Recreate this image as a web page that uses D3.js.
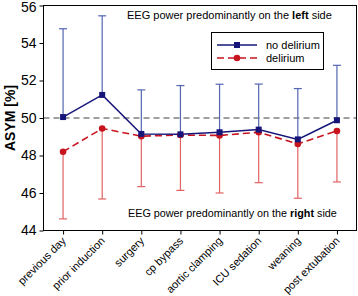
<!DOCTYPE html>
<html><head><meta charset="utf-8">
<script src="https://cdn.jsdelivr.net/npm/d3@7"></script>
<style>body{margin:0;background:#fff;}svg{display:block;font-family:"Liberation Sans",Arial,sans-serif;}</style>
</head><body><svg id="c" width="358" height="296"></svg>
<script>
const categories = ["previous day","prior induction","surgery","cp bypass","aortic clamping","ICU sedation","weaning","post extubation"];
const noDeliriumMean = [50.05, 51.23, 49.15, 49.13, 49.24, 49.38, 48.86, 49.88];
const noDeliriumUpper = [54.76, 55.45, 51.50, 51.73, 51.80, 51.81, 51.57, 52.81];
const deliriumMean = [48.20, 49.44, 49.03, 49.09, 49.07, 49.24, 48.62, 49.31];
const deliriumLower = [44.62, 45.68, 46.34, 46.14, 46.00, 46.55, 45.72, 46.59];
const yTicks = [44, 46, 48, 50, 52, 54, 56];

(function () {
const svg = d3.select("#c");
const L = 43.5, R = 356.5, T = 5.5, B = 230.5;
const x = d3.scalePoint().domain(categories).range([L, R]).padding(0.5);
const y = d3.scaleLinear().domain([44, 56]).range([B, T]);

const navy = "#16167a", blueBar = "#5365b3", red = "#c8141e", redBar = "#e26363";

svg.append("line").attr("x1", L).attr("x2", R).attr("y1", y(50)).attr("y2", y(50))
  .attr("stroke", "#808080").attr("stroke-width", 1.5).attr("stroke-dasharray", "6,4");

const cap = 4;
function errBars(means, ends, color) {
  const g = svg.append("g").attr("stroke", color).attr("stroke-width", 1.2).attr("fill", "none");
  categories.forEach((c, i) => {
    const cx = x(c);
    g.append("line").attr("x1", cx).attr("x2", cx).attr("y1", y(means[i])).attr("y2", y(ends[i]));
    g.append("line").attr("x1", cx - cap).attr("x2", cx + cap).attr("y1", y(ends[i])).attr("y2", y(ends[i]));
  });
}
errBars(noDeliriumMean, noDeliriumUpper, blueBar);
errBars(deliriumMean, deliriumLower, redBar);

const line = d3.line().x((d, i) => x(categories[i])).y(d => y(d));
svg.append("path").datum(deliriumMean).attr("d", line).attr("fill", "none")
  .attr("stroke", red).attr("stroke-width", 1.6).attr("stroke-dasharray", "7,4");
svg.append("path").datum(noDeliriumMean).attr("d", line).attr("fill", "none")
  .attr("stroke", navy).attr("stroke-width", 1.5);

svg.append("g").selectAll("circle").data(deliriumMean).join("circle")
  .attr("cx", (d, i) => x(categories[i])).attr("cy", d => y(d)).attr("r", 3.3).attr("fill", red);
svg.append("g").selectAll("rect").data(noDeliriumMean).join("rect")
  .attr("x", (d, i) => x(categories[i]) - 3).attr("y", d => y(d) - 3)
  .attr("width", 6).attr("height", 6).attr("fill", navy);

svg.append("rect").attr("x", L).attr("y", T).attr("width", R - L).attr("height", B - T)
  .attr("fill", "none").attr("stroke", "#000").attr("stroke-width", 1);

const yAxis = svg.append("g").attr("transform", `translate(${L},0)`)
  .call(d3.axisLeft(y).tickValues(yTicks).tickSize(4).tickPadding(3));
yAxis.select(".domain").remove();
yAxis.selectAll("text").attr("font-size", 14).attr("font-family", "Liberation Sans, Arial, sans-serif").attr("fill", "#000");
yAxis.selectAll(".tick").filter(d => d === 56).select("text").attr("dy", "0.45em");

const xAxis = svg.append("g").attr("transform", `translate(0,${B})`)
  .call(d3.axisBottom(x).tickSize(4));
xAxis.select(".domain").remove();
xAxis.selectAll("text").attr("font-size", 11).attr("font-family", "Liberation Sans, Arial, sans-serif")
  .attr("fill", "#000").attr("text-anchor", "end").attr("dy", null).attr("y", null)
  .attr("transform", "translate(3,11) rotate(-45)");

svg.append("text").attr("transform", `translate(15,${(T + B) / 2}) rotate(-90)`)
  .attr("text-anchor", "middle").attr("font-size", 14).attr("font-weight", "bold").text("ASYM [%]");

const topNote = svg.append("text").attr("x", 127).attr("y", 19).attr("font-size", 11);
topNote.append("tspan").text("EEG power predominantly on the ");
topNote.append("tspan").attr("font-weight", "bold").text("left");
topNote.append("tspan").text(" side");
const botNote = svg.append("text").attr("x", 128).attr("y", 217).attr("font-size", 10.8);
botNote.append("tspan").text("EEG power predominantly on the ");
botNote.append("tspan").attr("font-weight", "bold").text("right");
botNote.append("tspan").text(" side");

const lg = svg.append("g");
lg.append("rect").attr("x", 211.5).attr("y", 32.5).attr("width", 112).attr("height", 37)
  .attr("fill", "#fff").attr("stroke", "#000").attr("stroke-width", 1);
lg.append("line").attr("x1", 217).attr("x2", 257).attr("y1", 45).attr("y2", 45).attr("stroke", navy).attr("stroke-width", 1.5);
lg.append("rect").attr("x", 234).attr("y", 42).attr("width", 6).attr("height", 6).attr("fill", navy);
lg.append("line").attr("x1", 217).attr("x2", 257).attr("y1", 58).attr("y2", 58).attr("stroke", red).attr("stroke-width", 1.6).attr("stroke-dasharray", "7,4");
lg.append("circle").attr("cx", 237).attr("cy", 58).attr("r", 3.3).attr("fill", red);
lg.append("text").attr("x", 266).attr("y", 49).attr("font-size", 11).text("no delirium");
lg.append("text").attr("x", 266).attr("y", 62).attr("font-size", 11).text("delirium");
})();
</script></body></html>
